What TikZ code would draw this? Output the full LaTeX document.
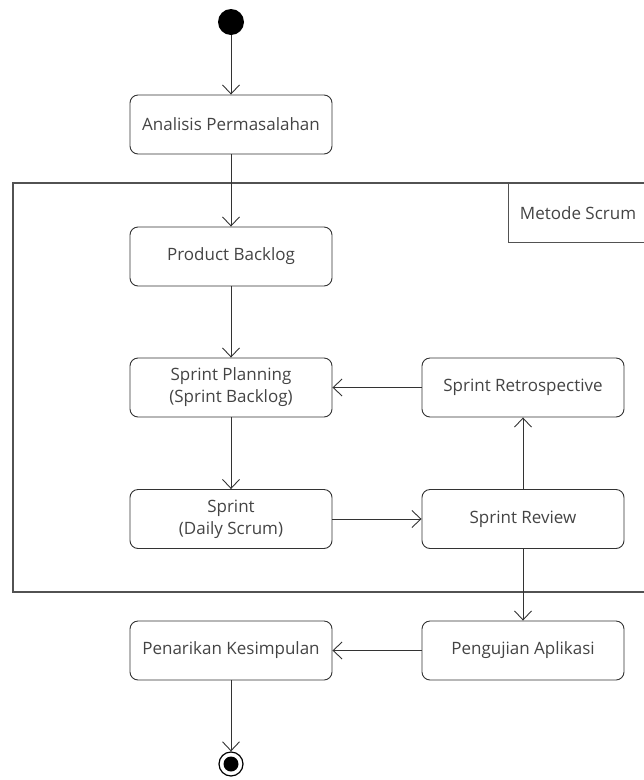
\documentclass[tikz,border=0pt]{standalone}
\usepackage{fontspec}
\setmainfont{Open Sans}
\usetikzlibrary{arrows.meta,positioning}
\definecolor{txt}{HTML}{444444}
\definecolor{ln}{HTML}{333333}
\tikzset{
  act/.style={draw=ln, line width=0.9pt, rounded corners=8pt, minimum width=202pt, minimum height=59pt, align=center, font=\fontsize{17}{22}\selectfont, text=txt, inner sep=0pt},
  flow/.style={draw=ln, line width=0.9pt, -{Straight Barb[length=9pt,width=17pt,line width=0.9pt]}},
  frame/.style={draw=ln!85, line width=1.3pt},
}
\begin{document}
\begin{tikzpicture}[x=1pt,y=-1pt]
\useasboundingbox (0,0) rectangle (644,780);
% frame
\draw[frame] (644,183) -- (13,183) -- (13,592) -- (644,592);
\draw[frame, line width=1pt] (644,242) -- (508,242) -- (508,183);
\node[font=\fontsize{17}{20}\selectfont, text=txt, anchor=center] (framelabel) at (578,213) {Metode Scrum};
% nodes
\node[circle, fill=black, minimum size=26pt, inner sep=0pt] (start) at (231,22) {};
\node[act] (analisis) at (231,124.5) {Analisis Permasalahan};
\node[act] (backlog) at (231,256.5) {Product Backlog};
\node[act] (planning) at (231,387.5) {Sprint Planning\\(Sprint Backlog)};
\node[act] (retro) at (523,387.5) {Sprint Retrospective};
\node[act] (sprint) at (231,519) {Sprint\\(Daily Scrum)};
\node[act] (review) at (523,519) {Sprint Review};
\node[act] (uji) at (523,650.5) {Pengujian Aplikasi};
\node[act] (simpul) at (231,650.5) {Penarikan Kesimpulan};
\node[circle, draw=black, line width=1.2pt, minimum size=24pt, inner sep=0pt] (end) at (231,764) {};
\node[circle, fill=black, minimum size=15pt, inner sep=0pt] (endin) at (231,764) {};
% flows
\draw[flow] (start) -- (analisis);
\draw[flow] (analisis) -- (backlog);
\draw[flow] (backlog) -- (planning);
\draw[flow] (planning) -- (sprint);
\draw[flow] (sprint) -- (review);
\draw[flow] (review) -- (retro);
\draw[flow] (retro) -- (planning);
\draw[flow] (review) -- (uji);
\draw[flow] (uji) -- (simpul);
\draw[flow] (simpul) -- (end);
\end{tikzpicture}
\end{document}
